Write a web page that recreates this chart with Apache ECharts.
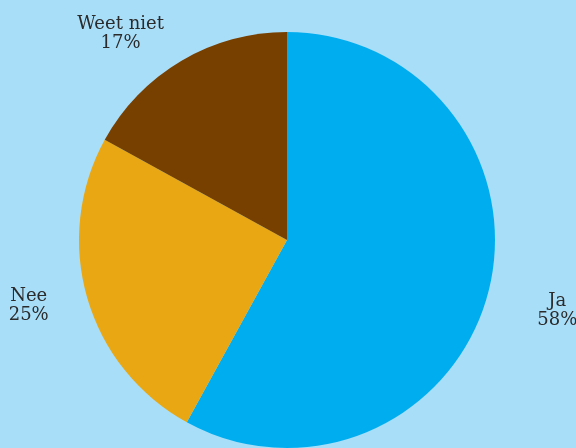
<!DOCTYPE html>
<html><head><meta charset="utf-8">
<style>html,body{margin:0;padding:0;background:#a9def9;}#c{width:576px;height:448px;}</style>
<script src="https://cdn.jsdelivr.net/npm/echarts@6/dist/echarts.min.js"></script>
</head><body><div id="c"></div>
<script>
const categories = ['Ja', 'Nee', 'Weet niet'];
const values = [58, 25, 17];
const colors = ['#00aeef', '#e8a713', '#773f00'];

const chart = echarts.init(document.getElementById('c'));
chart.setOption({
  backgroundColor: '#a9def9',
  animation: false,
  series: [{
    type: 'pie',
    center: [287, 240],
    radius: 208,
    startAngle: 90,
    clockwise: true,
    data: categories.map((c, i) => ({
      name: c, value: values[i], itemStyle: { color: colors[i] },
      label: { offset: [[9, 12], [1, 0], [12, -3]][i] }
    })),
    label: {
      show: true,
      position: 'outside',
      overflow: 'none',
      formatter: p => '{a|' + p.name + '}\n{a|' + p.value + '%}',
      rich: {
        a: { align: 'center', fontFamily: 'DejaVu Serif', fontSize: 18, lineHeight: 19, color: '#2b2b2b' }
      },
      fontFamily: 'DejaVu Serif',
      fontSize: 18,
      lineHeight: 19,
      color: '#2b2b2b'
    },
    labelLine: { show: false, length: 28, length2: 10 },
    itemStyle: { borderWidth: 0 }
  }]
});
</script></body></html>
